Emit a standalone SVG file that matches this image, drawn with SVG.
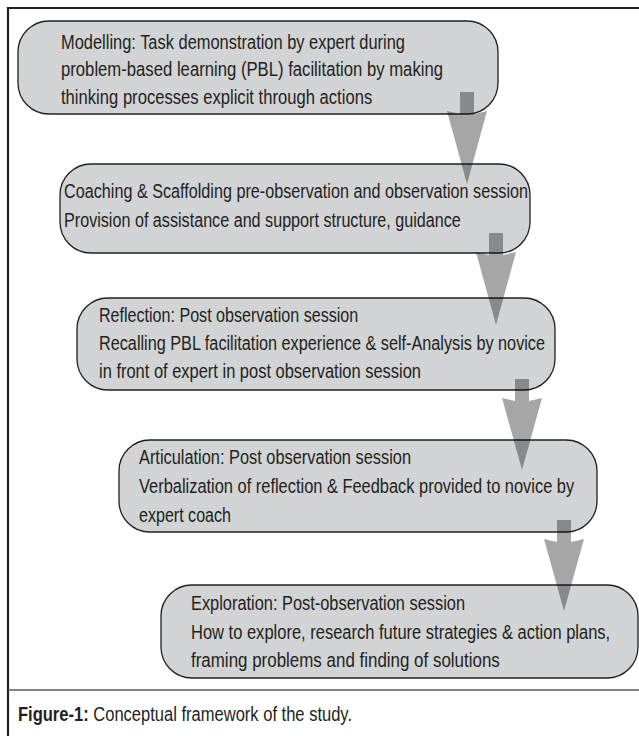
<svg xmlns="http://www.w3.org/2000/svg" width="639" height="736" viewBox="0 0 639 736">
<style>
.box{fill:#d1d3d4;stroke:#231f20;stroke-width:1.3}
.t{font-family:"Liberation Sans",Arial,sans-serif;font-size:21px;fill:#231f20}
.b{font-weight:bold}
.arrow{fill:#000;fill-opacity:0.35;stroke:none}
.frame{fill:none;stroke:#231f20;stroke-width:2.2}
.sep{fill:none;stroke:#58595b;stroke-width:1.3}
</style>
<rect width="639" height="736" fill="#fff"/>
<g id="frame">
<path class="frame" d="M639,8 H8 V736"/>
<line class="sep" x1="8" y1="690" x2="639" y2="690"/>
</g>
<g id="modelling">
<rect class="box" x="18" y="21" width="480" height="93" rx="31" ry="31"/>
<text class="t" transform="translate(61,49) scale(0.8,1)" textLength="430" lengthAdjust="spacingAndGlyphs">Modelling: Task demonstration by expert during</text>
<text class="t" transform="translate(61,76) scale(0.8,1)" textLength="477.5" lengthAdjust="spacingAndGlyphs">problem-based learning (PBL) facilitation by making</text>
<text class="t" transform="translate(61,104) scale(0.8,1)" textLength="389" lengthAdjust="spacingAndGlyphs">thinking processes explicit through actions</text>
</g>
<g id="coaching">
<rect class="box" x="60" y="164" width="470" height="89" rx="31" ry="31"/>
<text class="t" transform="translate(64,198) scale(0.8,1)" textLength="580" lengthAdjust="spacingAndGlyphs">Coaching &amp; Scaffolding pre-observation and observation session</text>
<text class="t" transform="translate(64,227) scale(0.8,1)" textLength="496" lengthAdjust="spacingAndGlyphs">Provision of assistance and support structure, guidance</text>
</g>
<g id="reflection">
<rect class="box" x="77" y="298" width="478" height="92" rx="31" ry="31"/>
<text class="t" transform="translate(99,322) scale(0.8,1)" textLength="324" lengthAdjust="spacingAndGlyphs">Reflection: Post observation session</text>
<text class="t" transform="translate(99,350) scale(0.8,1)" textLength="557.5" lengthAdjust="spacingAndGlyphs">Recalling PBL facilitation experience &amp; self-Analysis by novice</text>
<text class="t" transform="translate(99,378) scale(0.8,1)" textLength="402.5" lengthAdjust="spacingAndGlyphs">in front of expert in post observation session</text>
</g>
<g id="articulation">
<rect class="box" x="119" y="440" width="478" height="92" rx="31" ry="31"/>
<text class="t" transform="translate(139,464) scale(0.8,1)" textLength="340" lengthAdjust="spacingAndGlyphs">Articulation: Post observation session</text>
<text class="t" transform="translate(139,493) scale(0.8,1)" textLength="544" lengthAdjust="spacingAndGlyphs">Verbalization of reflection &amp; Feedback provided to novice by</text>
<text class="t" transform="translate(139,522) scale(0.8,1)" textLength="115" lengthAdjust="spacingAndGlyphs">expert coach</text>
</g>
<g id="exploration">
<rect class="box" x="161" y="585" width="477" height="93" rx="31" ry="31"/>
<text class="t" transform="translate(191,610) scale(0.8,1)" textLength="342.5" lengthAdjust="spacingAndGlyphs">Exploration: Post-observation session</text>
<text class="t" transform="translate(191,639) scale(0.8,1)" textLength="524" lengthAdjust="spacingAndGlyphs">How to explore, research future strategies &amp; action plans,</text>
<text class="t" transform="translate(191,667) scale(0.8,1)" textLength="386" lengthAdjust="spacingAndGlyphs">framing problems and finding of solutions</text>
</g>
<g id="connectors">
<path class="arrow" d="M460,92 H474 V114 L487,111 L467,184 L447,111 L460,114 Z"/>
<path class="arrow" d="M489,233 H503 V255 L516,252 L496,325 L476,252 L489,255 Z"/>
<path class="arrow" d="M515,379 H529 V401 L542,398 L522,470 L502,398 L515,401 Z"/>
<path class="arrow" d="M557,520 H571 V542 L584,539 L564,611 L544,539 L557,542 Z"/>
</g>
<g id="caption">
<text class="t" transform="translate(18,721) scale(0.8,1)" textLength="417.5" lengthAdjust="spacingAndGlyphs"><tspan class="b">Figure-1:</tspan> Conceptual framework of the study.</text>
</g>
</svg>
